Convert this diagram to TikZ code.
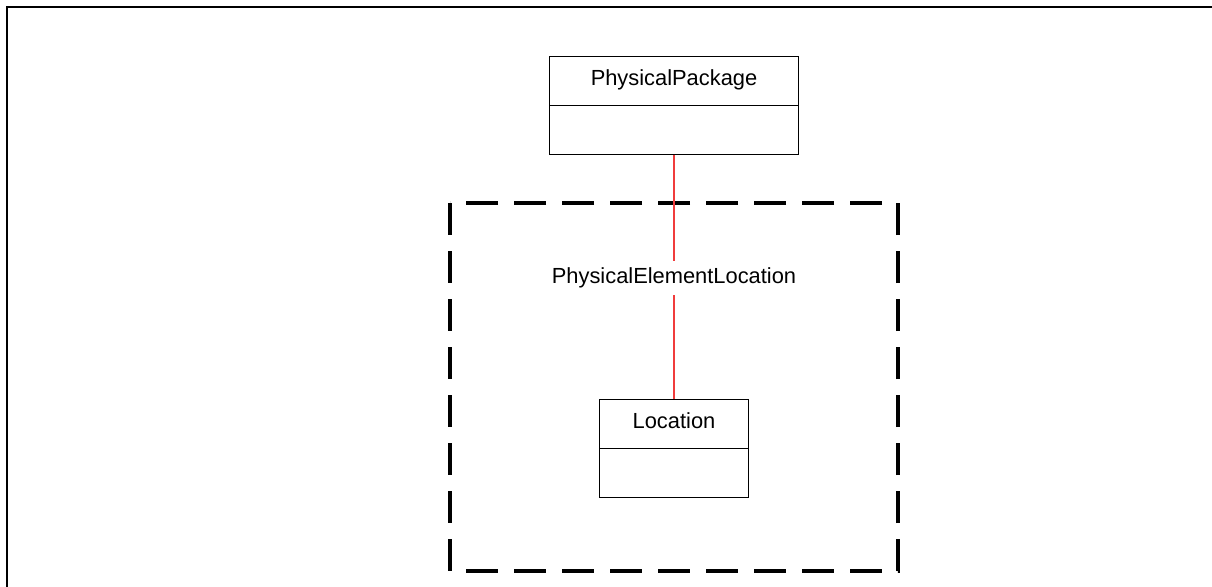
\documentclass[tikz,border=0pt]{standalone}
\usepackage{fontspec}
\setmainfont{Liberation Sans}
\definecolor{assoc}{RGB}{240,60,60}
\begin{document}
\begin{tikzpicture}[x=0.75pt,y=-0.75pt,
  classbox/.style={draw=black,line width=0.75pt,minimum height=73pt,inner sep=0pt},
  classname/.style={font=\fontsize{16.4pt}{19pt}\selectfont,inner sep=0pt},
  frameline/.style={line width=1.6pt},
  regionbox/.style={line width=2.3pt,dash pattern=on 24pt off 12pt,dash phase=0pt},
  assocline/.style={draw=assoc,line width=1pt}]
\useasboundingbox (0,0) rectangle (1212,586);
% outer frame (left and top edges)
\coordinate (fbl) at (7,590);
\coordinate (ftl) at (7,7);
\coordinate (ftr) at (1216,7);
\draw[frameline] (fbl) -- (ftl) -- (ftr);
% dashed region
\coordinate (r1) at (450,203);
\coordinate (r2) at (450,571);
\coordinate (r3) at (898,571);
\coordinate (r4) at (898,203);
\draw[regionbox] (r1) -- (r2) -- (r3) -- (r4) -- cycle;
% classes
\node[classbox,minimum width=186.75pt] (pp) at (674,105.5) {};
\draw[line width=0.75pt] (pp.west) -- (pp.east);
\node[classname] (ppname) at (674,80) {PhysicalPackage};
\node[classbox,minimum width=111.75pt,minimum height=73.5pt] (loc) at (674,448) {};
\draw[line width=0.75pt] (loc.west) -- (loc.east);
\node[classname] (locname) at (674,421) {Location};
% association
\draw[assocline] (pp.south) -- (loc.north);
\node[classname,fill=white,inner ysep=5pt] (assocname) at (674,278) {PhysicalElementLocation};
\end{tikzpicture}
\end{document}
